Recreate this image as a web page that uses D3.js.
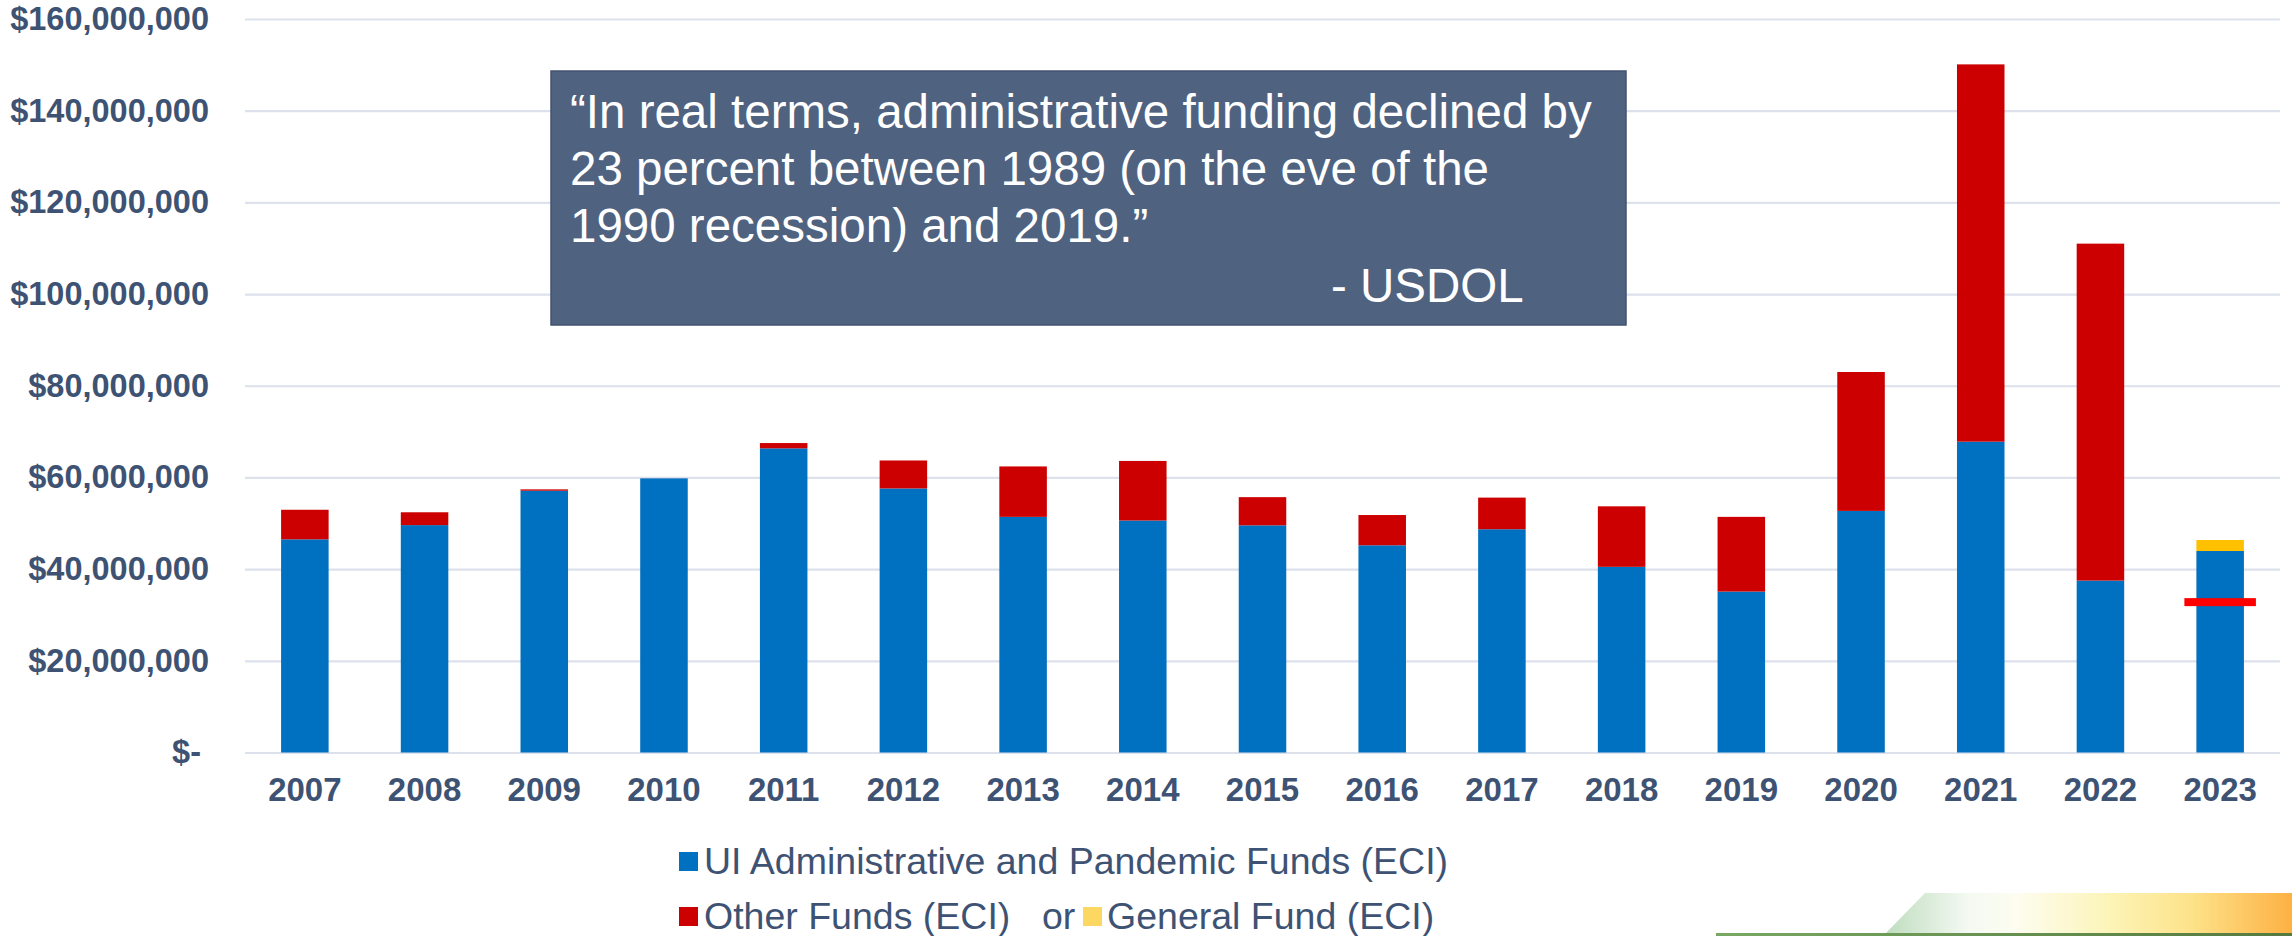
<!DOCTYPE html>
<html>
<head>
<meta charset="utf-8">
<script src="https://cdn.jsdelivr.net/npm/d3@7"></script>
<style>
  html, body { margin: 0; padding: 0; background: #ffffff; }
  svg { display: block; }
  text { font-family: "Liberation Sans", Arial, sans-serif; }
</style>
</head>
<body>
<svg id="chart" width="2292" height="936"></svg>
<script>
// ---- data (values in millions of dollars) ----
const years = ["2007","2008","2009","2010","2011","2012","2013","2014","2015","2016","2017","2018","2019","2020","2021","2022","2023"];
const uiAdminFunds = [46.5, 49.6, 57.1, 59.8, 66.35, 57.6, 51.4, 50.6, 49.55, 45.2, 48.7, 40.5, 35.1, 52.7, 67.8, 37.5, 43.95];
const otherFunds   = [6.45, 2.8, 0.3, 0, 1.15, 6.1, 11.0, 13.0, 6.15, 6.6, 6.9, 13.2, 16.3, 30.3, 82.3, 73.5, 0];
const generalFund  = [0, 0, 0, 0, 0, 0, 0, 0, 0, 0, 0, 0, 0, 0, 0, 0, 2.4];
const markerYear = "2023";
const markerValue = 32.8;
const yTicks = [0, 20, 40, 60, 80, 100, 120, 140, 160];
const seriesNames = ["UI Administrative and Pandemic Funds (ECI)", "Other Funds (ECI)", "General Fund (ECI)"];
const quoteLines = ["\u201CIn real terms, administrative funding declined by", "23 percent between 1989 (on the eve of the", "1990 recession) and 2019.\u201D"];
const quoteSource = "- USDOL";

// ---- styling ----
const colors = { ui: "#0070C0", other: "#CC0000", general: "#FFC000", generalLegend: "#FCD862", marker: "#FF0000" };
const textColor = "#3E5373";
const gridColor = "#DCE1EC";

const svg = d3.select("#chart");
const plot = { left: 245, right: 2280, top: 19, bottom: 752.5 };

const x = d3.scaleBand().domain(years).range([plot.left, plot.right]).paddingInner(0.603).paddingOuter(0.3015);
const y = d3.scaleLinear().domain([0, 160]).range([plot.bottom, plot.top]);

// gridlines + y labels
const fmt = v => v === 0 ? "$-" : "$" + d3.format(",")(v * 1e6);
const yAxis = svg.append("g").attr("transform", `translate(${plot.left},0)`)
  .call(d3.axisLeft(y).tickValues(yTicks).tickFormat(fmt).tickSize(-(plot.right - plot.left)).tickPadding(36));
yAxis.select(".domain").remove();
yAxis.selectAll(".tick line").attr("stroke", gridColor).attr("stroke-width", 2.2);
yAxis.selectAll(".tick text").attr("fill", textColor).attr("font-size", 32.5).attr("font-weight", "bold")
  .attr("font-family", "Liberation Sans, Arial, sans-serif");
yAxis.selectAll(".tick").filter(d => d === 0).select("text").attr("x", -44);

// x labels
const xAxis = svg.append("g").attr("transform", `translate(0,${plot.bottom})`)
  .call(d3.axisBottom(x).tickSize(0).tickPadding(25));
xAxis.select(".domain").remove();
xAxis.selectAll(".tick text").attr("fill", textColor).attr("font-size", 33).attr("font-weight", "bold")
  .attr("font-family", "Liberation Sans, Arial, sans-serif");

// stacked bars
const rows = years.map((yr, i) => ({ year: yr, ui: uiAdminFunds[i], other: otherFunds[i], general: generalFund[i] }));
const stack = d3.stack().keys(["ui", "other", "general"])(rows);
const g = svg.append("g");
stack.forEach(layer => {
  g.selectAll(null).data(layer.filter(d => d[1] - d[0] > 0)).enter().append("rect")
    .attr("x", d => x(d.data.year))
    .attr("width", x.bandwidth())
    .attr("y", d => y(d[1]))
    .attr("height", d => y(d[0]) - y(d[1]))
    .attr("fill", colors[layer.key]);
});

// 2023 red marker line
const mPad = 12;
svg.append("rect")
  .attr("x", x(markerYear) - mPad)
  .attr("width", x.bandwidth() + 2 * mPad)
  .attr("y", y(markerValue) - 4)
  .attr("height", 8)
  .attr("fill", colors.marker);

// quote box
const qb = svg.append("g");
qb.append("rect").attr("x", 551).attr("y", 71).attr("width", 1075).attr("height", 254)
  .attr("fill", "#4F6280").attr("stroke", "#41536F").attr("stroke-width", 1.5);
quoteLines.forEach((line, i) => {
  qb.append("text").attr("x", 570).attr("y", 128 + i * 57).text(line)
    .attr("fill", "#ffffff").attr("font-size", 47.5);
});
qb.append("text").attr("x", 1331).attr("y", 302).text(quoteSource).attr("fill", "#ffffff").attr("font-size", 47.5);

// legend
const lg = svg.append("g");
const legFont = 37.5;
lg.append("rect").attr("x", 679).attr("y", 852).attr("width", 19).attr("height", 19).attr("fill", colors.ui);
lg.append("text").attr("x", 704).attr("y", 874).text(seriesNames[0]).attr("fill", textColor).attr("font-size", legFont);
lg.append("rect").attr("x", 679).attr("y", 907).attr("width", 19).attr("height", 19).attr("fill", colors.other);
lg.append("text").attr("x", 704).attr("y", 929).text(seriesNames[1]).attr("fill", textColor).attr("font-size", legFont);
lg.append("text").attr("x", 1042).attr("y", 929).text("or").attr("fill", textColor).attr("font-size", legFont);
lg.append("rect").attr("x", 1083).attr("y", 907).attr("width", 19).attr("height", 19).attr("fill", colors.generalLegend);
lg.append("text").attr("x", 1107).attr("y", 929).text(seriesNames[2]).attr("fill", textColor).attr("font-size", legFont);

// decorative bottom-right band
const defs = svg.append("defs");
const grad = defs.append("linearGradient").attr("id", "band").attr("x1", "0%").attr("x2", "100%");
[["0%", "#BFDDBF"], ["20%", "#F4F9F2"], ["32%", "#FDFDF0"], ["55%", "#FCF4B8"], ["75%", "#FDE38A"], ["100%", "#FDB143"]]
  .forEach(([o, c]) => grad.append("stop").attr("offset", o).attr("stop-color", c));
svg.append("path").attr("d", "M1925,893 L2292,893 L2292,933 L1886,933 Z").attr("fill", "url(#band)");
const grad2 = defs.append("linearGradient").attr("id", "gline").attr("x1", "0%").attr("x2", "100%");
grad2.append("stop").attr("offset", "0%").attr("stop-color", "#79A862");
grad2.append("stop").attr("offset", "100%").attr("stop-color", "#557A40");
svg.append("rect").attr("x", 1716).attr("y", 933).attr("width", 576).attr("height", 3).attr("fill", "url(#gline)");
</script>
</body>
</html>
